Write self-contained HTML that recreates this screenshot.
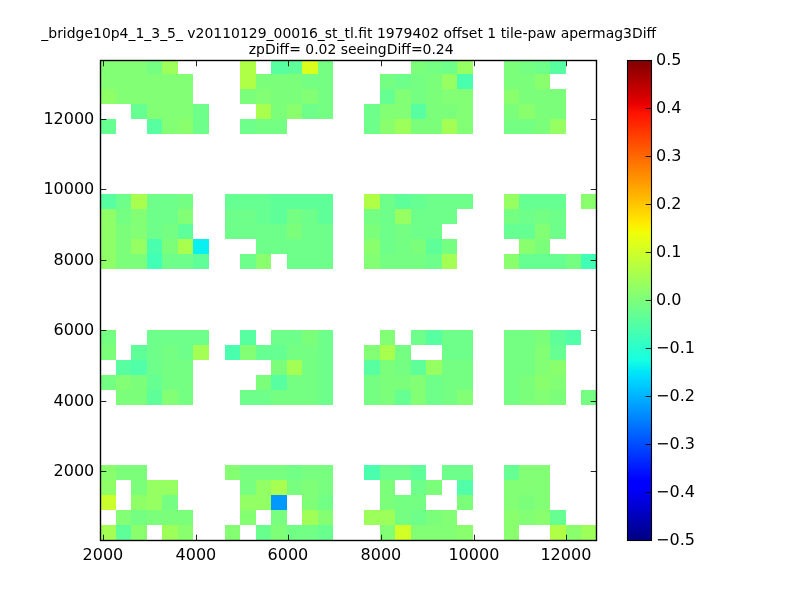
<!DOCTYPE html>
<html><head><meta charset="utf-8"><title>plot</title>
<style>
html,body{margin:0;padding:0;background:#fff;overflow:hidden}
svg{display:block;font-family:"DejaVu Sans","Liberation Sans",sans-serif;fill:#000}
</style></head><body>
<svg width="800" height="600" viewBox="0 0 800 600">
<rect width="800" height="600" fill="#fff"/>
<g><rect x="100" y="60" width="16" height="14" fill="#82ff75"/><rect x="116" y="60" width="15" height="14" fill="#82ff75"/><rect x="131" y="60" width="16" height="14" fill="#82ff75"/><rect x="147" y="60" width="15" height="14" fill="#74ff83"/><rect x="162" y="60" width="16" height="14" fill="#9cff5a"/><rect x="240" y="60" width="16" height="14" fill="#b0ff47"/><rect x="271" y="60" width="16" height="14" fill="#57ffa0"/><rect x="287" y="60" width="15" height="14" fill="#5eff98"/><rect x="302" y="60" width="16" height="14" fill="#daff1d"/><rect x="318" y="60" width="15" height="14" fill="#74ff83"/><rect x="411" y="60" width="15" height="14" fill="#7bff7b"/><rect x="426" y="60" width="16" height="14" fill="#74ff83"/><rect x="442" y="60" width="15" height="14" fill="#6dff8a"/><rect x="457" y="60" width="16" height="14" fill="#96ff61"/><rect x="504" y="60" width="15" height="14" fill="#7bff7b"/><rect x="519" y="60" width="16" height="14" fill="#74ff83"/><rect x="535" y="60" width="15" height="14" fill="#6dff8a"/><rect x="550" y="60" width="16" height="14" fill="#57ffa0"/><rect x="100" y="74" width="16" height="15" fill="#82ff75"/><rect x="116" y="74" width="15" height="15" fill="#82ff75"/><rect x="131" y="74" width="16" height="15" fill="#82ff75"/><rect x="147" y="74" width="15" height="15" fill="#82ff75"/><rect x="162" y="74" width="16" height="15" fill="#82ff75"/><rect x="178" y="74" width="15" height="15" fill="#82ff75"/><rect x="240" y="74" width="16" height="15" fill="#b0ff47"/><rect x="256" y="74" width="15" height="15" fill="#7bff7b"/><rect x="271" y="74" width="16" height="15" fill="#7bff7b"/><rect x="287" y="74" width="15" height="15" fill="#7bff7b"/><rect x="302" y="74" width="16" height="15" fill="#74ff83"/><rect x="318" y="74" width="15" height="15" fill="#74ff83"/><rect x="380" y="74" width="15" height="15" fill="#74ff83"/><rect x="395" y="74" width="16" height="15" fill="#6dff8a"/><rect x="411" y="74" width="15" height="15" fill="#74ff83"/><rect x="426" y="74" width="16" height="15" fill="#7bff7b"/><rect x="442" y="74" width="15" height="15" fill="#96ff61"/><rect x="457" y="74" width="16" height="15" fill="#49ffae"/><rect x="504" y="74" width="15" height="15" fill="#7bff7b"/><rect x="519" y="74" width="16" height="15" fill="#7bff7b"/><rect x="535" y="74" width="15" height="15" fill="#89ff6e"/><rect x="100" y="89" width="16" height="15" fill="#8fff68"/><rect x="116" y="89" width="15" height="15" fill="#82ff75"/><rect x="131" y="89" width="16" height="15" fill="#82ff75"/><rect x="147" y="89" width="15" height="15" fill="#82ff75"/><rect x="162" y="89" width="16" height="15" fill="#82ff75"/><rect x="178" y="89" width="15" height="15" fill="#82ff75"/><rect x="240" y="89" width="16" height="15" fill="#7bff7b"/><rect x="256" y="89" width="15" height="15" fill="#82ff75"/><rect x="271" y="89" width="16" height="15" fill="#7bff7b"/><rect x="287" y="89" width="15" height="15" fill="#7bff7b"/><rect x="302" y="89" width="16" height="15" fill="#82ff75"/><rect x="318" y="89" width="15" height="15" fill="#74ff83"/><rect x="380" y="89" width="15" height="15" fill="#66ff91"/><rect x="395" y="89" width="16" height="15" fill="#82ff75"/><rect x="411" y="89" width="15" height="15" fill="#74ff83"/><rect x="426" y="89" width="16" height="15" fill="#7bff7b"/><rect x="442" y="89" width="15" height="15" fill="#82ff75"/><rect x="457" y="89" width="16" height="15" fill="#82ff75"/><rect x="504" y="89" width="15" height="15" fill="#89ff6e"/><rect x="519" y="89" width="16" height="15" fill="#7bff7b"/><rect x="535" y="89" width="15" height="15" fill="#7bff7b"/><rect x="550" y="89" width="16" height="15" fill="#7bff7b"/><rect x="131" y="104" width="16" height="15" fill="#66ff91"/><rect x="147" y="104" width="15" height="15" fill="#82ff75"/><rect x="162" y="104" width="16" height="15" fill="#82ff75"/><rect x="178" y="104" width="15" height="15" fill="#82ff75"/><rect x="193" y="104" width="16" height="15" fill="#6dff8a"/><rect x="256" y="104" width="15" height="15" fill="#a9ff4d"/><rect x="271" y="104" width="16" height="15" fill="#7bff7b"/><rect x="287" y="104" width="15" height="15" fill="#89ff6e"/><rect x="302" y="104" width="16" height="15" fill="#6dff8a"/><rect x="318" y="104" width="15" height="15" fill="#74ff83"/><rect x="364" y="104" width="16" height="15" fill="#6dff8a"/><rect x="380" y="104" width="15" height="15" fill="#82ff75"/><rect x="395" y="104" width="16" height="15" fill="#82ff75"/><rect x="411" y="104" width="15" height="15" fill="#57ffa0"/><rect x="426" y="104" width="16" height="15" fill="#7bff7b"/><rect x="442" y="104" width="15" height="15" fill="#7bff7b"/><rect x="457" y="104" width="16" height="15" fill="#82ff75"/><rect x="504" y="104" width="15" height="15" fill="#7bff7b"/><rect x="519" y="104" width="16" height="15" fill="#89ff6e"/><rect x="535" y="104" width="15" height="15" fill="#7bff7b"/><rect x="550" y="104" width="16" height="15" fill="#7bff7b"/><rect x="100" y="119" width="16" height="15" fill="#66ff91"/><rect x="147" y="119" width="15" height="15" fill="#57ffa0"/><rect x="162" y="119" width="16" height="15" fill="#82ff75"/><rect x="178" y="119" width="15" height="15" fill="#89ff6e"/><rect x="193" y="119" width="16" height="15" fill="#6dff8a"/><rect x="240" y="119" width="16" height="15" fill="#6dff8a"/><rect x="256" y="119" width="15" height="15" fill="#74ff83"/><rect x="271" y="119" width="16" height="15" fill="#74ff83"/><rect x="364" y="119" width="16" height="15" fill="#6dff8a"/><rect x="380" y="119" width="15" height="15" fill="#89ff6e"/><rect x="395" y="119" width="16" height="15" fill="#9cff5a"/><rect x="411" y="119" width="15" height="15" fill="#7bff7b"/><rect x="426" y="119" width="16" height="15" fill="#7bff7b"/><rect x="442" y="119" width="15" height="15" fill="#a3ff54"/><rect x="457" y="119" width="16" height="15" fill="#82ff75"/><rect x="504" y="119" width="15" height="15" fill="#74ff83"/><rect x="519" y="119" width="16" height="15" fill="#74ff83"/><rect x="535" y="119" width="15" height="15" fill="#7bff7b"/><rect x="550" y="119" width="16" height="15" fill="#96ff61"/><rect x="100" y="194" width="16" height="15" fill="#57ffa0"/><rect x="116" y="194" width="15" height="15" fill="#6dff8a"/><rect x="131" y="194" width="16" height="15" fill="#a9ff4d"/><rect x="147" y="194" width="15" height="15" fill="#6dff8a"/><rect x="162" y="194" width="16" height="15" fill="#6dff8a"/><rect x="178" y="194" width="15" height="15" fill="#74ff83"/><rect x="225" y="194" width="15" height="15" fill="#66ff91"/><rect x="240" y="194" width="16" height="15" fill="#66ff91"/><rect x="256" y="194" width="15" height="15" fill="#66ff91"/><rect x="271" y="194" width="16" height="15" fill="#5eff98"/><rect x="287" y="194" width="15" height="15" fill="#5eff98"/><rect x="302" y="194" width="16" height="15" fill="#5eff98"/><rect x="318" y="194" width="15" height="15" fill="#5eff98"/><rect x="364" y="194" width="16" height="15" fill="#b0ff47"/><rect x="380" y="194" width="15" height="15" fill="#6dff8a"/><rect x="395" y="194" width="16" height="15" fill="#5eff98"/><rect x="411" y="194" width="15" height="15" fill="#66ff91"/><rect x="426" y="194" width="16" height="15" fill="#6dff8a"/><rect x="442" y="194" width="15" height="15" fill="#6dff8a"/><rect x="457" y="194" width="16" height="15" fill="#6dff8a"/><rect x="504" y="194" width="15" height="15" fill="#96ff61"/><rect x="519" y="194" width="16" height="15" fill="#66ff91"/><rect x="535" y="194" width="15" height="15" fill="#66ff91"/><rect x="550" y="194" width="16" height="15" fill="#66ff91"/><rect x="581" y="194" width="16" height="15" fill="#89ff6e"/><rect x="100" y="209" width="16" height="15" fill="#8fff68"/><rect x="116" y="209" width="15" height="15" fill="#74ff83"/><rect x="131" y="209" width="16" height="15" fill="#82ff75"/><rect x="147" y="209" width="15" height="15" fill="#6dff8a"/><rect x="162" y="209" width="16" height="15" fill="#6dff8a"/><rect x="178" y="209" width="15" height="15" fill="#82ff75"/><rect x="225" y="209" width="15" height="15" fill="#6dff8a"/><rect x="240" y="209" width="16" height="15" fill="#6dff8a"/><rect x="256" y="209" width="15" height="15" fill="#66ff91"/><rect x="271" y="209" width="16" height="15" fill="#5eff98"/><rect x="287" y="209" width="15" height="15" fill="#74ff83"/><rect x="302" y="209" width="16" height="15" fill="#6dff8a"/><rect x="318" y="209" width="15" height="15" fill="#5eff98"/><rect x="364" y="209" width="16" height="15" fill="#74ff83"/><rect x="380" y="209" width="15" height="15" fill="#6dff8a"/><rect x="395" y="209" width="16" height="15" fill="#96ff61"/><rect x="411" y="209" width="15" height="15" fill="#6dff8a"/><rect x="426" y="209" width="16" height="15" fill="#6dff8a"/><rect x="442" y="209" width="15" height="15" fill="#6dff8a"/><rect x="504" y="209" width="15" height="15" fill="#74ff83"/><rect x="519" y="209" width="16" height="15" fill="#6dff8a"/><rect x="535" y="209" width="15" height="15" fill="#74ff83"/><rect x="550" y="209" width="16" height="15" fill="#6dff8a"/><rect x="100" y="224" width="16" height="15" fill="#8fff68"/><rect x="116" y="224" width="15" height="15" fill="#7bff7b"/><rect x="131" y="224" width="16" height="15" fill="#82ff75"/><rect x="147" y="224" width="15" height="15" fill="#6dff8a"/><rect x="162" y="224" width="16" height="15" fill="#74ff83"/><rect x="178" y="224" width="15" height="15" fill="#5eff98"/><rect x="225" y="224" width="15" height="15" fill="#6dff8a"/><rect x="240" y="224" width="16" height="15" fill="#6dff8a"/><rect x="256" y="224" width="15" height="15" fill="#6dff8a"/><rect x="271" y="224" width="16" height="15" fill="#6dff8a"/><rect x="287" y="224" width="15" height="15" fill="#7bff7b"/><rect x="302" y="224" width="16" height="15" fill="#6dff8a"/><rect x="318" y="224" width="15" height="15" fill="#6dff8a"/><rect x="364" y="224" width="16" height="15" fill="#7bff7b"/><rect x="380" y="224" width="15" height="15" fill="#6dff8a"/><rect x="395" y="224" width="16" height="15" fill="#74ff83"/><rect x="411" y="224" width="15" height="15" fill="#6dff8a"/><rect x="426" y="224" width="16" height="15" fill="#6dff8a"/><rect x="504" y="224" width="15" height="15" fill="#66ff91"/><rect x="519" y="224" width="16" height="15" fill="#66ff91"/><rect x="535" y="224" width="15" height="15" fill="#82ff75"/><rect x="550" y="224" width="16" height="15" fill="#6dff8a"/><rect x="100" y="239" width="16" height="15" fill="#8fff68"/><rect x="116" y="239" width="15" height="15" fill="#7bff7b"/><rect x="131" y="239" width="16" height="15" fill="#96ff61"/><rect x="147" y="239" width="15" height="15" fill="#49ffae"/><rect x="162" y="239" width="16" height="15" fill="#7bff7b"/><rect x="178" y="239" width="15" height="15" fill="#a9ff4d"/><rect x="193" y="239" width="16" height="15" fill="#08f0ef"/><rect x="256" y="239" width="15" height="15" fill="#6dff8a"/><rect x="271" y="239" width="16" height="15" fill="#6dff8a"/><rect x="287" y="239" width="15" height="15" fill="#6dff8a"/><rect x="302" y="239" width="16" height="15" fill="#6dff8a"/><rect x="318" y="239" width="15" height="15" fill="#6dff8a"/><rect x="364" y="239" width="16" height="15" fill="#89ff6e"/><rect x="380" y="239" width="15" height="15" fill="#6dff8a"/><rect x="395" y="239" width="16" height="15" fill="#74ff83"/><rect x="411" y="239" width="15" height="15" fill="#7bff7b"/><rect x="426" y="239" width="16" height="15" fill="#5eff98"/><rect x="442" y="239" width="15" height="15" fill="#74ff83"/><rect x="519" y="239" width="16" height="15" fill="#89ff6e"/><rect x="535" y="239" width="15" height="15" fill="#7bff7b"/><rect x="100" y="254" width="16" height="15" fill="#8fff68"/><rect x="116" y="254" width="15" height="15" fill="#7bff7b"/><rect x="131" y="254" width="16" height="15" fill="#7bff7b"/><rect x="147" y="254" width="15" height="15" fill="#41ffb5"/><rect x="162" y="254" width="16" height="15" fill="#6dff8a"/><rect x="178" y="254" width="15" height="15" fill="#6dff8a"/><rect x="193" y="254" width="16" height="15" fill="#5eff98"/><rect x="240" y="254" width="16" height="15" fill="#6dff8a"/><rect x="256" y="254" width="15" height="15" fill="#89ff6e"/><rect x="287" y="254" width="15" height="15" fill="#6dff8a"/><rect x="302" y="254" width="16" height="15" fill="#6dff8a"/><rect x="318" y="254" width="15" height="15" fill="#6dff8a"/><rect x="364" y="254" width="16" height="15" fill="#82ff75"/><rect x="380" y="254" width="15" height="15" fill="#74ff83"/><rect x="395" y="254" width="16" height="15" fill="#74ff83"/><rect x="411" y="254" width="15" height="15" fill="#74ff83"/><rect x="426" y="254" width="16" height="15" fill="#6dff8a"/><rect x="442" y="254" width="15" height="15" fill="#a3ff54"/><rect x="504" y="254" width="15" height="15" fill="#89ff6e"/><rect x="519" y="254" width="16" height="15" fill="#66ff91"/><rect x="535" y="254" width="15" height="15" fill="#66ff91"/><rect x="550" y="254" width="16" height="15" fill="#66ff91"/><rect x="566" y="254" width="15" height="15" fill="#74ff83"/><rect x="581" y="254" width="16" height="15" fill="#41ffb5"/><rect x="100" y="330" width="16" height="15" fill="#74ff83"/><rect x="147" y="330" width="15" height="15" fill="#6dff8a"/><rect x="162" y="330" width="16" height="15" fill="#6dff8a"/><rect x="178" y="330" width="15" height="15" fill="#6dff8a"/><rect x="193" y="330" width="16" height="15" fill="#6dff8a"/><rect x="240" y="330" width="16" height="15" fill="#57ffa0"/><rect x="271" y="330" width="16" height="15" fill="#6dff8a"/><rect x="287" y="330" width="15" height="15" fill="#6dff8a"/><rect x="302" y="330" width="16" height="15" fill="#7bff7b"/><rect x="318" y="330" width="15" height="15" fill="#6dff8a"/><rect x="380" y="330" width="15" height="15" fill="#82ff75"/><rect x="411" y="330" width="15" height="15" fill="#6dff8a"/><rect x="426" y="330" width="16" height="15" fill="#57ffa0"/><rect x="442" y="330" width="15" height="15" fill="#6dff8a"/><rect x="457" y="330" width="16" height="15" fill="#6dff8a"/><rect x="504" y="330" width="15" height="15" fill="#74ff83"/><rect x="519" y="330" width="16" height="15" fill="#74ff83"/><rect x="535" y="330" width="15" height="15" fill="#7bff7b"/><rect x="550" y="330" width="16" height="15" fill="#5eff98"/><rect x="566" y="330" width="15" height="15" fill="#50ffa7"/><rect x="100" y="345" width="16" height="15" fill="#7bff7b"/><rect x="131" y="345" width="16" height="15" fill="#5eff98"/><rect x="147" y="345" width="15" height="15" fill="#6dff8a"/><rect x="162" y="345" width="16" height="15" fill="#74ff83"/><rect x="178" y="345" width="15" height="15" fill="#6dff8a"/><rect x="193" y="345" width="16" height="15" fill="#a3ff54"/><rect x="225" y="345" width="15" height="15" fill="#49ffae"/><rect x="240" y="345" width="16" height="15" fill="#82ff75"/><rect x="256" y="345" width="15" height="15" fill="#66ff91"/><rect x="271" y="345" width="16" height="15" fill="#66ff91"/><rect x="287" y="345" width="15" height="15" fill="#74ff83"/><rect x="302" y="345" width="16" height="15" fill="#74ff83"/><rect x="318" y="345" width="15" height="15" fill="#6dff8a"/><rect x="364" y="345" width="16" height="15" fill="#82ff75"/><rect x="380" y="345" width="15" height="15" fill="#a9ff4d"/><rect x="395" y="345" width="16" height="15" fill="#74ff83"/><rect x="442" y="345" width="15" height="15" fill="#6dff8a"/><rect x="457" y="345" width="16" height="15" fill="#6dff8a"/><rect x="504" y="345" width="15" height="15" fill="#74ff83"/><rect x="519" y="345" width="16" height="15" fill="#74ff83"/><rect x="535" y="345" width="15" height="15" fill="#82ff75"/><rect x="550" y="345" width="16" height="15" fill="#66ff91"/><rect x="116" y="360" width="15" height="15" fill="#57ffa0"/><rect x="131" y="360" width="16" height="15" fill="#50ffa7"/><rect x="147" y="360" width="15" height="15" fill="#6dff8a"/><rect x="162" y="360" width="16" height="15" fill="#74ff83"/><rect x="178" y="360" width="15" height="15" fill="#74ff83"/><rect x="271" y="360" width="16" height="15" fill="#7bff7b"/><rect x="287" y="360" width="15" height="15" fill="#a3ff54"/><rect x="302" y="360" width="16" height="15" fill="#74ff83"/><rect x="318" y="360" width="15" height="15" fill="#6dff8a"/><rect x="364" y="360" width="16" height="15" fill="#57ffa0"/><rect x="380" y="360" width="15" height="15" fill="#7bff7b"/><rect x="395" y="360" width="16" height="15" fill="#74ff83"/><rect x="411" y="360" width="15" height="15" fill="#5eff98"/><rect x="426" y="360" width="16" height="15" fill="#96ff61"/><rect x="442" y="360" width="15" height="15" fill="#74ff83"/><rect x="457" y="360" width="16" height="15" fill="#74ff83"/><rect x="504" y="360" width="15" height="15" fill="#74ff83"/><rect x="519" y="360" width="16" height="15" fill="#74ff83"/><rect x="535" y="360" width="15" height="15" fill="#82ff75"/><rect x="550" y="360" width="16" height="15" fill="#89ff6e"/><rect x="100" y="375" width="16" height="15" fill="#74ff83"/><rect x="116" y="375" width="15" height="15" fill="#82ff75"/><rect x="131" y="375" width="16" height="15" fill="#7bff7b"/><rect x="147" y="375" width="15" height="15" fill="#66ff91"/><rect x="162" y="375" width="16" height="15" fill="#74ff83"/><rect x="178" y="375" width="15" height="15" fill="#74ff83"/><rect x="256" y="375" width="15" height="15" fill="#7bff7b"/><rect x="271" y="375" width="16" height="15" fill="#57ffa0"/><rect x="287" y="375" width="15" height="15" fill="#74ff83"/><rect x="302" y="375" width="16" height="15" fill="#74ff83"/><rect x="318" y="375" width="15" height="15" fill="#6dff8a"/><rect x="364" y="375" width="16" height="15" fill="#74ff83"/><rect x="380" y="375" width="15" height="15" fill="#7bff7b"/><rect x="395" y="375" width="16" height="15" fill="#7bff7b"/><rect x="411" y="375" width="15" height="15" fill="#82ff75"/><rect x="426" y="375" width="16" height="15" fill="#6dff8a"/><rect x="442" y="375" width="15" height="15" fill="#74ff83"/><rect x="457" y="375" width="16" height="15" fill="#74ff83"/><rect x="504" y="375" width="15" height="15" fill="#74ff83"/><rect x="519" y="375" width="16" height="15" fill="#7bff7b"/><rect x="535" y="375" width="15" height="15" fill="#89ff6e"/><rect x="550" y="375" width="16" height="15" fill="#82ff75"/><rect x="116" y="390" width="15" height="15" fill="#7bff7b"/><rect x="131" y="390" width="16" height="15" fill="#7bff7b"/><rect x="147" y="390" width="15" height="15" fill="#5eff98"/><rect x="162" y="390" width="16" height="15" fill="#82ff75"/><rect x="178" y="390" width="15" height="15" fill="#74ff83"/><rect x="240" y="390" width="16" height="15" fill="#6dff8a"/><rect x="256" y="390" width="15" height="15" fill="#6dff8a"/><rect x="271" y="390" width="16" height="15" fill="#74ff83"/><rect x="287" y="390" width="15" height="15" fill="#74ff83"/><rect x="302" y="390" width="16" height="15" fill="#74ff83"/><rect x="318" y="390" width="15" height="15" fill="#6dff8a"/><rect x="364" y="390" width="16" height="15" fill="#74ff83"/><rect x="380" y="390" width="15" height="15" fill="#7bff7b"/><rect x="395" y="390" width="16" height="15" fill="#66ff91"/><rect x="411" y="390" width="15" height="15" fill="#82ff75"/><rect x="426" y="390" width="16" height="15" fill="#6dff8a"/><rect x="442" y="390" width="15" height="15" fill="#74ff83"/><rect x="457" y="390" width="16" height="15" fill="#82ff75"/><rect x="504" y="390" width="15" height="15" fill="#74ff83"/><rect x="519" y="390" width="16" height="15" fill="#7bff7b"/><rect x="535" y="390" width="15" height="15" fill="#82ff75"/><rect x="550" y="390" width="16" height="15" fill="#7bff7b"/><rect x="581" y="390" width="16" height="15" fill="#74ff83"/><rect x="100" y="465" width="16" height="15" fill="#89ff6e"/><rect x="116" y="465" width="15" height="15" fill="#7bff7b"/><rect x="131" y="465" width="16" height="15" fill="#7bff7b"/><rect x="225" y="465" width="15" height="15" fill="#85ff72"/><rect x="240" y="465" width="16" height="15" fill="#78ff7f"/><rect x="256" y="465" width="15" height="15" fill="#78ff7f"/><rect x="271" y="465" width="16" height="15" fill="#78ff7f"/><rect x="287" y="465" width="15" height="15" fill="#71ff86"/><rect x="302" y="465" width="16" height="15" fill="#78ff7f"/><rect x="318" y="465" width="15" height="15" fill="#78ff7f"/><rect x="364" y="465" width="16" height="15" fill="#49ffae"/><rect x="380" y="465" width="15" height="15" fill="#6dff8a"/><rect x="395" y="465" width="16" height="15" fill="#6dff8a"/><rect x="411" y="465" width="15" height="15" fill="#5eff98"/><rect x="442" y="465" width="15" height="15" fill="#6dff8a"/><rect x="457" y="465" width="16" height="15" fill="#6dff8a"/><rect x="504" y="465" width="15" height="15" fill="#66ff91"/><rect x="519" y="465" width="16" height="15" fill="#82ff75"/><rect x="535" y="465" width="15" height="15" fill="#82ff75"/><rect x="100" y="480" width="16" height="15" fill="#8fff68"/><rect x="131" y="480" width="16" height="15" fill="#7bff7b"/><rect x="147" y="480" width="15" height="15" fill="#96ff61"/><rect x="162" y="480" width="16" height="15" fill="#96ff61"/><rect x="240" y="480" width="16" height="15" fill="#78ff7f"/><rect x="256" y="480" width="15" height="15" fill="#92ff64"/><rect x="271" y="480" width="16" height="15" fill="#a6ff51"/><rect x="287" y="480" width="15" height="15" fill="#78ff7f"/><rect x="302" y="480" width="16" height="15" fill="#7fff78"/><rect x="318" y="480" width="15" height="15" fill="#78ff7f"/><rect x="380" y="480" width="15" height="15" fill="#7bff7b"/><rect x="411" y="480" width="15" height="15" fill="#6dff8a"/><rect x="426" y="480" width="16" height="15" fill="#7bff7b"/><rect x="457" y="480" width="16" height="15" fill="#50ffa7"/><rect x="504" y="480" width="15" height="15" fill="#82ff75"/><rect x="519" y="480" width="16" height="15" fill="#82ff75"/><rect x="535" y="480" width="15" height="15" fill="#82ff75"/><rect x="100" y="495" width="16" height="15" fill="#caff2d"/><rect x="131" y="495" width="16" height="15" fill="#8fff68"/><rect x="147" y="495" width="15" height="15" fill="#96ff61"/><rect x="162" y="495" width="16" height="15" fill="#74ff83"/><rect x="240" y="495" width="16" height="15" fill="#92ff64"/><rect x="256" y="495" width="15" height="15" fill="#92ff64"/><rect x="271" y="495" width="16" height="15" fill="#0099ff"/><rect x="302" y="495" width="16" height="15" fill="#7fff78"/><rect x="318" y="495" width="15" height="15" fill="#71ff86"/><rect x="380" y="495" width="15" height="15" fill="#7bff7b"/><rect x="395" y="495" width="16" height="15" fill="#74ff83"/><rect x="411" y="495" width="15" height="15" fill="#74ff83"/><rect x="457" y="495" width="16" height="15" fill="#7bff7b"/><rect x="504" y="495" width="15" height="15" fill="#82ff75"/><rect x="519" y="495" width="16" height="15" fill="#7bff7b"/><rect x="535" y="495" width="15" height="15" fill="#82ff75"/><rect x="116" y="510" width="15" height="15" fill="#82ff75"/><rect x="131" y="510" width="16" height="15" fill="#74ff83"/><rect x="147" y="510" width="15" height="15" fill="#7bff7b"/><rect x="162" y="510" width="16" height="15" fill="#7bff7b"/><rect x="178" y="510" width="15" height="15" fill="#7bff7b"/><rect x="240" y="510" width="16" height="15" fill="#85ff72"/><rect x="271" y="510" width="16" height="15" fill="#78ff7f"/><rect x="302" y="510" width="16" height="15" fill="#a0ff57"/><rect x="318" y="510" width="15" height="15" fill="#85ff72"/><rect x="364" y="510" width="16" height="15" fill="#9cff5a"/><rect x="380" y="510" width="15" height="15" fill="#9cff5a"/><rect x="395" y="510" width="16" height="15" fill="#74ff83"/><rect x="411" y="510" width="15" height="15" fill="#6dff8a"/><rect x="426" y="510" width="16" height="15" fill="#7bff7b"/><rect x="442" y="510" width="15" height="15" fill="#82ff75"/><rect x="504" y="510" width="15" height="15" fill="#89ff6e"/><rect x="519" y="510" width="16" height="15" fill="#82ff75"/><rect x="535" y="510" width="15" height="15" fill="#89ff6e"/><rect x="550" y="510" width="16" height="15" fill="#66ff91"/><rect x="100" y="525" width="16" height="15" fill="#a3ff54"/><rect x="116" y="525" width="15" height="15" fill="#5eff98"/><rect x="131" y="525" width="16" height="15" fill="#89ff6e"/><rect x="162" y="525" width="16" height="15" fill="#9cff5a"/><rect x="178" y="525" width="15" height="15" fill="#89ff6e"/><rect x="225" y="525" width="15" height="15" fill="#85ff72"/><rect x="256" y="525" width="15" height="15" fill="#69ff8d"/><rect x="271" y="525" width="16" height="15" fill="#7fff78"/><rect x="287" y="525" width="15" height="15" fill="#71ff86"/><rect x="302" y="525" width="16" height="15" fill="#71ff86"/><rect x="318" y="525" width="15" height="15" fill="#69ff8d"/><rect x="380" y="525" width="15" height="15" fill="#82ff75"/><rect x="395" y="525" width="16" height="15" fill="#d2ff25"/><rect x="411" y="525" width="15" height="15" fill="#82ff75"/><rect x="426" y="525" width="16" height="15" fill="#82ff75"/><rect x="442" y="525" width="15" height="15" fill="#82ff75"/><rect x="457" y="525" width="16" height="15" fill="#89ff6e"/><rect x="504" y="525" width="15" height="15" fill="#89ff6e"/><rect x="550" y="525" width="16" height="15" fill="#b0ff47"/><rect x="566" y="525" width="15" height="15" fill="#89ff6e"/><rect x="581" y="525" width="16" height="15" fill="#9cff5a"/></g>
<path d="M103.50 540.50v-5.80M103.50 60.50v5.80M196.50 540.50v-5.80M196.50 60.50v5.80M288.50 540.50v-5.80M288.50 60.50v5.80M381.50 540.50v-5.80M381.50 60.50v5.80M474.50 540.50v-5.80M474.50 60.50v5.80M566.50 540.50v-5.80M566.50 60.50v5.80M100.50 471.50h5.80M596.50 471.50h-5.80M100.50 401.50h5.80M596.50 401.50h-5.80M100.50 330.50h5.80M596.50 330.50h-5.80M100.50 260.50h5.80M596.50 260.50h-5.80M100.50 189.50h5.80M596.50 189.50h-5.80M100.50 119.50h5.80M596.50 119.50h-5.80" stroke="#000" stroke-width="1" stroke-opacity="0.85" fill="none"/>
<rect x="100.50" y="60.50" width="496.00" height="480.00" fill="none" stroke="#000" stroke-width="1.39"/>
<defs><linearGradient id="jet" x1="0" y1="0" x2="0" y2="1"><stop offset="0.0000" stop-color="#800000"/><stop offset="0.0900" stop-color="#e80000"/><stop offset="0.1100" stop-color="#ff1300"/><stop offset="0.3400" stop-color="#ffec00"/><stop offset="0.3500" stop-color="#f7f600"/><stop offset="0.3600" stop-color="#efff08"/><stop offset="0.6250" stop-color="#15ffe2"/><stop offset="0.6500" stop-color="#00e5f7"/><stop offset="0.6600" stop-color="#00dbff"/><stop offset="0.8750" stop-color="#0000ff"/><stop offset="0.8900" stop-color="#0000ff"/><stop offset="1.0000" stop-color="#000080"/></linearGradient></defs>
<rect x="627.50" y="60.50" width="24.00" height="480.00" fill="url(#jet)" stroke="#000" stroke-width="1.1"/>
<path d="M651.50 108.50h-5.80M651.50 156.50h-5.80M651.50 204.50h-5.80M651.50 252.50h-5.80M651.50 300.50h-5.80M651.50 348.50h-5.80M651.50 396.50h-5.80M651.50 444.50h-5.80M651.50 492.50h-5.80" stroke="#000" stroke-width="1" stroke-opacity="0.85" fill="none"/>
<g font-size="16.00px"><text x="102.90" y="560.3" text-anchor="middle">2000</text><text x="195.90" y="560.3" text-anchor="middle">4000</text><text x="287.90" y="560.3" text-anchor="middle">6000</text><text x="380.90" y="560.3" text-anchor="middle">8000</text><text x="473.90" y="560.3" text-anchor="middle">10000</text><text x="565.90" y="560.3" text-anchor="middle">12000</text><text x="94.3" y="475.70" text-anchor="end">2000</text><text x="94.3" y="405.70" text-anchor="end">4000</text><text x="94.3" y="334.70" text-anchor="end">6000</text><text x="94.3" y="264.70" text-anchor="end">8000</text><text x="94.3" y="193.70" text-anchor="end">10000</text><text x="94.3" y="123.70" text-anchor="end">12000</text><text x="656.1" y="64.70">0.5</text><text x="656.1" y="112.70">0.4</text><text x="656.1" y="160.70">0.3</text><text x="656.1" y="208.70">0.2</text><text x="656.1" y="256.70">0.1</text><text x="656.1" y="304.70">0.0</text><text x="656.1" y="352.70">−0.1</text><text x="656.1" y="400.70">−0.2</text><text x="656.1" y="448.70">−0.3</text><text x="656.1" y="496.70">−0.4</text><text x="656.1" y="544.70">−0.5</text></g>
<g font-size="13.95px" text-anchor="middle"><text x="348.75" y="38.1">_bridge10p4_1_3_5_ v20110129_00016_st_tl.fit 1979402 offset 1 tile-paw apermag3Diff</text><text x="351.2" y="53.7">zpDiff= 0.02 seeingDiff=0.24</text></g>
</svg>
</body></html>
